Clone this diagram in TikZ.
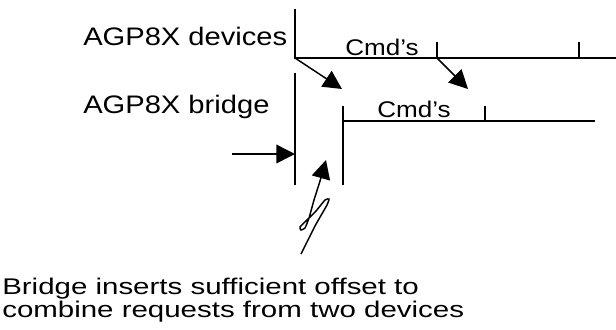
\documentclass[tikz,border=0pt]{standalone}
\usepackage{fontspec}
\setmainfont{Liberation Sans}
\newfontfamily\notefont{Liberation Sans}[FakeStretch=1.3]
\usepackage{tikz}
\usetikzlibrary{arrows.meta,positioning}
\newcommand{\widetext}[1]{\scalebox{1.15}[1]{#1}}

\begin{document}
\begin{tikzpicture}[x=0.75pt,y=-0.75pt,>={Triangle[length=14pt,width=14pt]},
  timeline/.style={line width=1.4pt},
  pointer/.style={line width=1.1pt,->},
  lbl/.style={inner sep=0pt,font=\fontsize{19}{23}\selectfont},
  cmdlbl/.style={inner sep=0pt,font=\fontsize{17}{21}\selectfont},
  notelbl/.style={inner sep=0pt,font=\notefont\fontsize{17}{17.25}\selectfont}]
\useasboundingbox (0,0) rectangle (616,329);
\coordinate (devtop) at (295,9);
\coordinate (devstart) at (295,58);
\coordinate (devend) at (616,58);
\coordinate (devtickA) at (437,58);
\coordinate (devtickB) at (579,58);
\coordinate (brgtop) at (295,73);
\coordinate (brgbot) at (295,185);
\coordinate (offtop) at (343,106);
\coordinate (offstart) at (343,121);
\coordinate (offbot) at (343,185);
\coordinate (brgend) at (595,121);
\coordinate (brgtick) at (485,121);
\coordinate (firstin) at (342,89);
\coordinate (secondin) at (468,89);
\coordinate (leftfrom) at (232,154);
\coordinate (leftto) at (295,154);
\node[lbl,anchor=base west] (devlbl) at (83,45) {\widetext{AGP8X devices}};
\node[lbl,anchor=base west] (brglbl) at (83,113) {\widetext{AGP8X bridge}};
\node[cmdlbl,anchor=base west] (devcmd) at (345,55) {\widetext{Cmd’s}};
\node[cmdlbl,anchor=base west] (brgcmd) at (377,117) {\widetext{Cmd’s}};
\node[notelbl,anchor=base west,align=left] (note) at (2,317) {Bridge inserts sufficient offset to\\combine requests from two devices};
\draw[timeline] (devtop) -- (devstart) -- (devend);
\draw[timeline] (devtickA) -- ++(0,-16);
\draw[timeline] (devtickB) -- ++(0,-16);
\draw[timeline] (brgtop) -- (brgbot);
\draw[timeline] (offbot) -- (offstart) -- (brgend);
\draw[timeline] (offtop) -- (offstart);
\draw[timeline] (brgtick) -- ++(0,-15);
\draw[pointer] (devstart) -- (firstin);
\draw[pointer] (devtickA) -- (secondin);
\draw[pointer] (leftfrom) -- (leftto);
\draw[pointer] plot[smooth,tension=0.3] coordinates {(301,254) (315,226) (327,205) (329,199) (325,200) (316,211) (307,220) (300,227) (301,230) (305,228) (309,218) (314,200) (320,181) (326,160)};
\end{tikzpicture}
\end{document}
